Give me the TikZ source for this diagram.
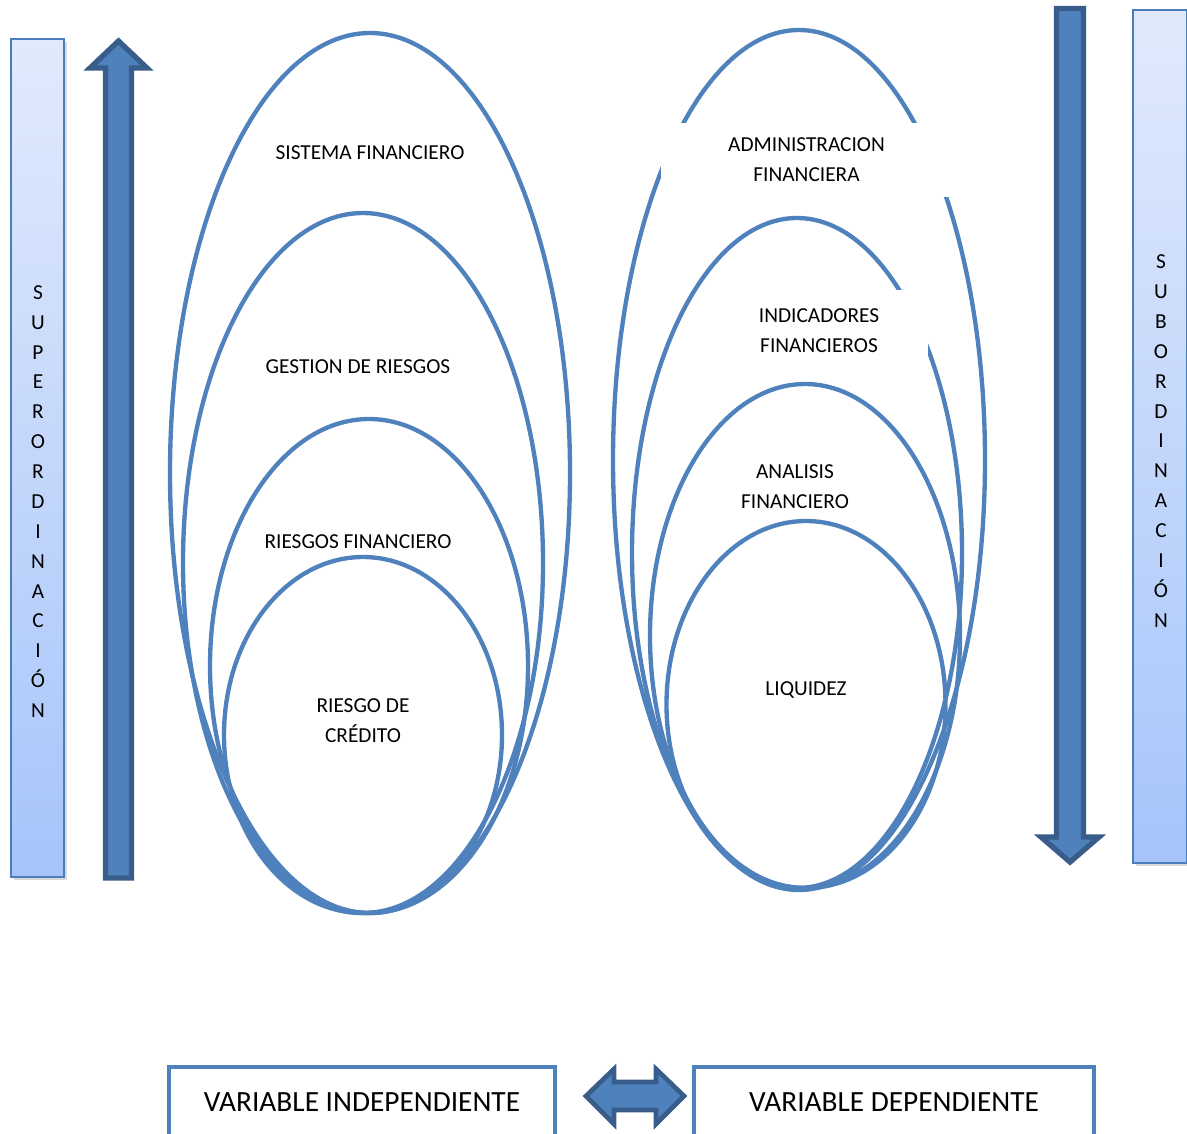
\documentclass[tikz,border=0pt]{standalone}
\usepackage{fontspec}
\setmainfont{Carlito}
\usetikzlibrary{shapes.geometric,shadows}
\definecolor{ringblue}{HTML}{4F81BD}
\definecolor{arrowedge}{HTML}{385D8A}
\definecolor{barline}{HTML}{4A7EBB}
\definecolor{bartop}{HTML}{E1EAFC}
\definecolor{barbottom}{HTML}{A6C4FA}
\begin{document}
\begin{tikzpicture}[x=0.75pt,y=-0.75pt,
  ring/.style={ellipse, draw=ringblue, line width=3.25pt, inner sep=0pt},
  lbl/.style={font=\fontsize{16}{22.5}\selectfont, align=center, inner sep=0pt},
  maskedlbl/.style={lbl, fill=white},
  sidebar/.style={rectangle, draw=barline, line width=1.5pt, top color=bartop, bottom color=barbottom,
    drop shadow={opacity=0.3, shadow xshift=2.5pt, shadow yshift=-2.5pt}},
  vertword/.style={font=\fontsize{16}{22.4}\selectfont, align=center, inner sep=0pt},
  blockarrow/.style={fill=ringblue, draw=arrowedge, line width=4pt, line join=miter},
  varbox/.style={rectangle, draw=ringblue, line width=3.5pt, fill=white, inner sep=0pt,
    font=\fontsize{22}{26}\selectfont}]
\useasboundingbox (0,0) rectangle (1187,1133);
\clip (0,0) rectangle (1187,1133);

% side bars
\node[sidebar, minimum width=39.75pt, minimum height=628.5pt] (barL) at (37.5,458) {};
\node[vertword] (txtL) at (38,501.5) {S\\U\\P\\E\\R\\O\\R\\D\\I\\N\\A\\C\\I\\Ó\\N};
\node[sidebar, minimum width=40.5pt, minimum height=639.75pt] (barR) at (1160,436.5) {};
\node[vertword] (txtR) at (1161,441) {S\\U\\B\\O\\R\\D\\I\\N\\A\\C\\I\\Ó\\N};

% vertical block arrows
\draw[blockarrow] (105.5,878) -- (105.5,68) -- (90,68) -- (118.5,41) -- (147,68)
  -- (131.5,68) -- (131.5,878) -- cycle;
\draw[blockarrow] (1056.5,8.5) -- (1083.5,8.5) -- (1083.5,837) -- (1099,837)
  -- (1070,862) -- (1041,837) -- (1056.5,837) -- cycle;

% left nest of ellipses
\node[ring, minimum width=300pt, minimum height=660pt] (e1) at (370,473) {};
\node[lbl] (l1) at (370,153) {SISTEMA FINANCIERO};
\node[ring, minimum width=270pt, minimum height=525pt] (e2) at (363,563) {};
\node[lbl] (l2) at (358,367) {GESTION DE RIESGOS};
\node[ring, minimum width=238.5pt, minimum height=370.5pt] (e3) at (369,666) {};
\node[maskedlbl, minimum width=169.5pt, minimum height=39pt] (l3) at (358,542) {RIESGOS FINANCIERO};
\node[ring, minimum width=208.5pt, minimum height=267pt] (e4) at (363,735) {};
\node[lbl] (l4) at (363,721) {RIESGO DE\\CRÉDITO};

% right nest of ellipses
\node[ring, minimum width=279pt, minimum height=645pt] (f1) at (799,460) {};
\node[maskedlbl, minimum width=218.25pt, minimum height=55.5pt] (m1) at (806.5,160) {ADMINISTRACION\\FINANCIERA};
\node[ring, minimum width=247.5pt, minimum height=502.5pt] (f2) at (797,553) {};
\node[maskedlbl, minimum width=163.5pt, minimum height=61.5pt] (m2) at (819,331) {INDICADORES\\FINANCIEROS};
\node[ring, minimum width=232.5pt, minimum height=378pt] (f3) at (805,636) {};
\node[lbl] (m3) at (795,487) {ANALISIS\\FINANCIERO};
\node[ring, minimum width=209.25pt, minimum height=275.25pt] (f4) at (806,704.5) {};
\node[lbl] (m4) at (806,690) {LIQUIDEZ};

% variable boxes and the two-way arrow between them
\node[varbox, minimum width=289.5pt, minimum height=53.25pt] (vi) at (362,1102.5) {VARIABLE INDEPENDIENTE};
\node[varbox, minimum width=300pt, minimum height=53.25pt] (vd) at (894,1102.5) {VARIABLE DEPENDIENTE};
\draw[blockarrow, line width=3.5pt] (586,1096) -- (614,1069) -- (614,1082) -- (656,1082) -- (656,1069)
  -- (684,1096) -- (656,1124) -- (656,1110) -- (614,1110) -- (614,1124) -- cycle;
\end{tikzpicture}
\end{document}
